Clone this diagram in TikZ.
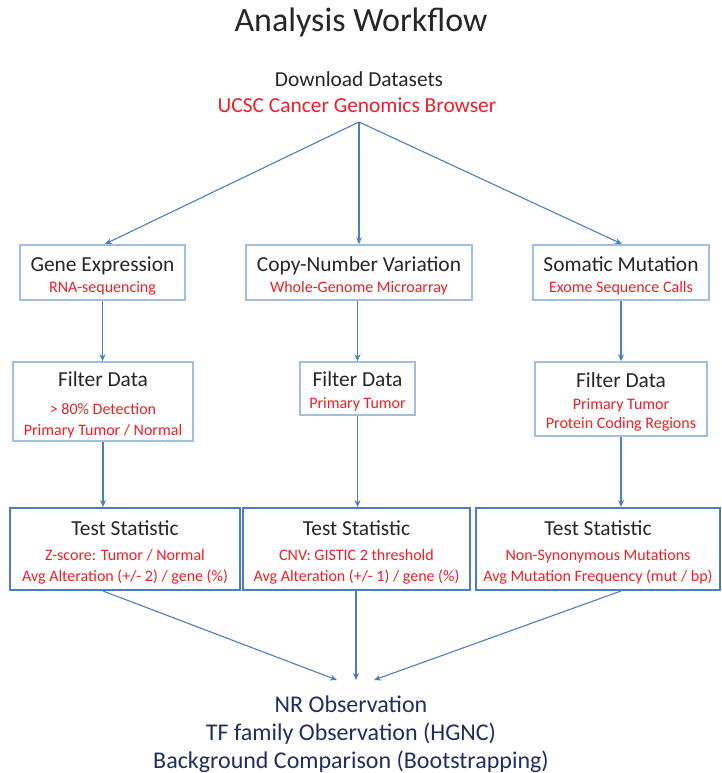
\documentclass[tikz,border=0pt]{standalone}
\usepackage{fontspec}
\setmainfont{Carlito}
\usetikzlibrary{positioning,arrows.meta,calc}
\definecolor{txtdark}{RGB}{38,38,38}
\definecolor{txtred}{RGB}{240,30,38}
\definecolor{txtnavy}{RGB}{32,46,96}
\definecolor{boxlight}{RGB}{160,190,228}
\definecolor{boxdark}{RGB}{74,126,192}
\definecolor{flow}{RGB}{74,126,192}
\tikzset{
  lightbox/.style={draw=boxlight, line width=1.6pt, inner sep=0pt, align=center, text=txtdark,
    font=\fontsize{16}{21}\selectfont},
  darkbox/.style={draw=boxdark, line width=2pt, inner sep=0pt, align=center, text=txtdark,
    font=\fontsize{16}{21}\selectfont},
  flowarrow/.style={draw=flow, line width=1.1pt, -{Stealth[length=7pt,width=6pt]}},
}
\newcommand{\hd}[1]{{\fontsize{21.4}{21}\selectfont\rule{0pt}{21pt}#1}}
\newcommand{\rd}[1]{{\color{txtred}#1}}
\begin{document}
\begin{tikzpicture}[x=1pt,y=-1pt]
\useasboundingbox (0,0) rectangle (722,773);
  % title and source
  \node[text=txtdark, font=\fontsize{34}{40}\selectfont] (title) at (361,22) {Analysis Workflow};
  \node[text=txtdark, font=\fontsize{21.4}{26}\selectfont] (dl) at (359,79) {Download Datasets};
  \node[text=txtred, font=\fontsize{21.4}{26}\selectfont] (ucsc) at (357,105) {UCSC Cancer Genomics Browser};
  \coordinate (split) at (359,122);
  % data types
  \node[lightbox, minimum width=165pt, minimum height=55pt] (ge) at (102.5,272.5)
     {\hd{Gene Expression}\\ \rd{RNA-sequencing}};
  \node[lightbox, minimum width=226pt, minimum height=55pt] (cnv) at (359,272.5)
     {\hd{Copy-Number Variation}\\ \rd{Whole-Genome Microarray}};
  \node[lightbox, minimum width=176pt, minimum height=55pt] (sm) at (621,272.5)
     {\hd{Somatic Mutation}\\ \rd{Exome Sequence Calls}};
  % filters
  \node[lightbox, minimum width=180pt, minimum height=79pt] (gef) at (103,401.5)
     {\hd{Filter Data}\\[7pt] \rd{> 80\% Detection}\\ \rd{Primary Tumor / Normal}};
  \node[lightbox, minimum width=115pt, minimum height=53pt] (cnvf) at (357.5,388.5)
     {\hd{Filter Data}\\[1pt] \rd{Primary Tumor}};
  \node[lightbox, minimum width=172pt, minimum height=74pt] (smf) at (621,399)
     {\hd{Filter Data}\\[1pt] \rd{Primary Tumor}\\[-2pt] \rd{Protein Coding Regions}};
  % statistics
  \node[darkbox, minimum width=230pt, minimum height=82pt] (get) at (125,549)
     {\hd{Test Statistic}\\[4pt] \rd{Z-score: Tumor / Normal}\\ \rd{Avg Alteration (+/- 2) / gene (\%)}};
  \node[darkbox, minimum width=227pt, minimum height=82pt] (cnvt) at (356.5,549)
     {\hd{Test Statistic}\\[4pt] \rd{CNV: GISTIC 2 threshold}\\ \rd{Avg Alteration (+/- 1) / gene (\%)}};
  \node[darkbox, minimum width=244pt, minimum height=82pt] (smt) at (598,549)
     {\hd{Test Statistic}\\[4pt] \rd{Non-Synonymous Mutations}\\ \rd{Avg Mutation Frequency (mut / bp)}};
  % observation
  \node[text=txtnavy, align=center, font=\fontsize{24}{28}\selectfont] (obs) at (351,734)
     {NR Observation\\ TF family Observation (HGNC)\\ Background Comparison (Bootstrapping)};
  \coordinate (obsL) at (337,680);
  \coordinate (obsM) at (356,680);
  \coordinate (obsR) at (374,680);
  % connectors
  \draw[flowarrow] (split) -- (105,244);
  \draw[flowarrow] (split) -- (cnv.north);
  \draw[flowarrow] (split) -- (622,244);
  \draw[flowarrow] (ge.south) -- (ge.south |- gef.north);
  \draw[flowarrow] (cnvf.north |- cnv.south) -- (cnvf.north);
  \draw[flowarrow] (sm.south) -- (smf.north);
  \draw[flowarrow] (gef.south) -- (gef.south |- get.north);
  \draw[flowarrow] (cnvf.south) -- (cnvf.south |- cnvt.north);
  \draw[flowarrow] (smf.south) -- (smf.south |- smt.north);
  \draw[flowarrow] (gef.south |- get.south) -- (obsL);
  \draw[flowarrow] (obsM |- cnvt.south) -- (obsM);
  \draw[flowarrow] (smf.south |- smt.south) -- (obsR);
\end{tikzpicture}
\end{document}
